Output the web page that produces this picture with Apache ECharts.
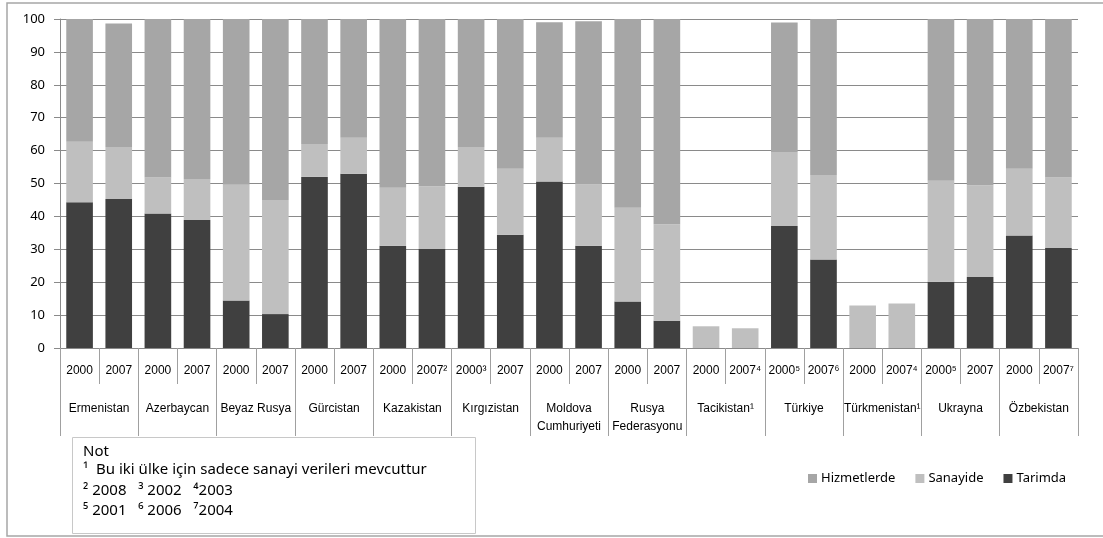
<!DOCTYPE html>
<html>
<head>
<meta charset="utf-8">
<script src="https://cdn.jsdelivr.net/npm/echarts@6/dist/echarts.min.js"></script>
<style>
html,body{margin:0;padding:0;background:#fff;}
#chart{width:1103px;height:538px;}
</style>
</head>
<body>
<div id="chart"></div>
<script>
var years = ['2000','2007','2000','2007','2000','2007','2000','2007','2000','2007²','2000³','2007','2000','2007','2000','2007','2000','2007⁴','2000⁵','2007⁶','2000','2007⁴','2000⁵','2007','2000','2007⁷'];
var countries = ['Ermenistan','Azerbaycan','Beyaz Rusya','Gürcistan','Kazakistan','Kırgızistan','Moldova\nCumhuriyeti','Rusya\nFederasyonu','Tacikistan¹','Türkiye','Türkmenistan¹','Ukrayna','Özbekistan'];
var tarimda = [44.3,45.3,40.9,38.9,14.4,10.3,52.0,53.0,31.1,30.1,49.0,34.4,50.6,31.1,14.1,8.3,null,null,37.1,26.9,null,null,20.1,21.6,34.2,30.4];
var sanayide = [18.4,15.8,10.9,12.5,35.2,34.7,10.0,10.9,17.6,19.1,12.1,20.1,13.3,18.6,28.5,29.3,6.6,6.0,22.5,25.7,12.9,13.5,30.7,27.9,20.3,21.4];
var hizmetlerde = [37.3,37.5,48.2,48.6,50.4,55.0,38.0,36.1,51.3,50.8,38.9,45.5,35.1,49.6,57.4,62.4,null,null,39.3,47.4,null,null,49.2,50.5,45.5,48.2];
var yTicks = [0,10,20,30,40,50,60,70,80,90,100];
var noteLines = ['Not','¹  Bu iki ülke için sadece sanayi verileri mevcuttur','² 2008   ³ 2002   ⁴2003','⁵ 2001   ⁶ 2006   ⁷2004'];

var narrow = '"Liberation Sans Narrow", "Arial Narrow", "Liberation Sans", sans-serif';
var body = '"Noto Sans", "Open Sans", sans-serif';
var gridColor = '#8a8a8a';
var sepColor = '#a0a0a0';

var chart = echarts.init(document.getElementById('chart'));
var option = {
  animation: false,
  backgroundColor: '#fff',
  grid: {left: 60, right: 25, top: 19, bottom: 190, containLabel: false},
  legend: {
    data: ['Hizmetlerde','Sanayide','Tarimda'],
    left: 803, top: 467,
    icon: 'rect', itemWidth: 9, itemHeight: 9, itemGap: 20,
    textStyle: {fontFamily: body, fontSize: 13, color: '#000', padding: [0,0,0,-1]}
  },
  xAxis: [{
    type: 'category', data: years, position: 'bottom',
    axisLine: {show: true, lineStyle: {color: gridColor, width: 1}},
    axisTick: {show: true, length: 36, lineStyle: {color: sepColor}},
    axisLabel: {interval: 0, margin: 17, fontFamily: narrow, fontSize: 12, color: '#000'}
  },{
    type: 'category', data: countries, position: 'bottom',
    axisLine: {show: false},
    axisTick: {show: true, length: 88, lineStyle: {color: sepColor}},
    axisLabel: {interval: 0, margin: 52, fontFamily: narrow, fontSize: 12, color: '#000', lineHeight: 18}
  }],
  yAxis: {
    type: 'value', min: 0, max: 100, interval: 10,
    axisLine: {show: true, lineStyle: {color: gridColor}},
    axisTick: {show: true, length: 6, lineStyle: {color: gridColor}},
    axisLabel: {margin: 15, fontFamily: body, fontSize: 13, color: '#000',
      formatter: function(v){ return yTicks.indexOf(v) >= 0 ? String(v) : ''; }},
    splitLine: {show: true, lineStyle: {color: gridColor, width: 1}}
  },
  series: [
    {name: 'Tarimda', type: 'bar', stack: 'a', data: tarimda, barCategoryGap: '32%', itemStyle: {color: '#404040'}},
    {name: 'Sanayide', type: 'bar', stack: 'a', data: sanayide, itemStyle: {color: '#bfbfbf'}},
    {name: 'Hizmetlerde', type: 'bar', stack: 'a', data: hizmetlerde, itemStyle: {color: '#a6a6a6'}}
  ],
  graphic: [
    {type: 'rect', shape: {x: 7, y: 3, width: 1110, height: 533}, style: {fill: 'none', stroke: '#a6a6a6', lineWidth: 1.5}, silent: true, z: -1},
    {type: 'rect', shape: {x: 72.5, y: 437.5, width: 403, height: 96}, style: {fill: '#fff', stroke: '#c8c8c8', lineWidth: 1}, silent: true},
    {type: 'text', left: 83, top: 444, style: {text: noteLines[0], font: '15px ' + body, fill: '#000'}},
    {type: 'text', left: 83, top: 462, style: {text: noteLines[1], font: '15px ' + body, fill: '#000'}},
    {type: 'text', left: 83, top: 483, style: {text: noteLines[2], font: '15px ' + body, fill: '#000'}},
    {type: 'text', left: 83, top: 503, style: {text: noteLines[3], font: '15px ' + body, fill: '#000'}}
  ]
};
chart.setOption(option);
</script>
</body>
</html>
